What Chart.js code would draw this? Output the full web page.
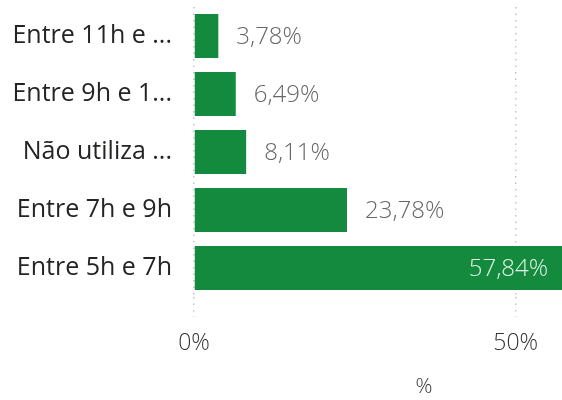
<!DOCTYPE html>
<html><head><meta charset="utf-8">
<script src="https://cdn.jsdelivr.net/npm/chart.js@4"></script>
<style>html,body{margin:0;padding:0;background:#fff;overflow:hidden}#wrap{width:562px;height:400px;overflow:hidden;position:relative}</style>
</head><body><div id="wrap"><canvas id="c" width="654" height="400" style="width:654px;height:400px;display:block"></canvas></div>
<script>
const categories = ["Entre 11h e ...", "Entre 9h e 1...", "Não utiliza ...", "Entre 7h e 9h", "Entre 5h e 7h"];
const values = [3.78, 6.49, 8.11, 23.78, 57.84];
const valueLabels = ["3,78%", "6,49%", "8,11%", "23,78%", "57,84%"];
const tickValues = [0, 50];
const tickLabels = ["0%", "50%"];
const axisTitle = "%";

const FONT = "'Open Sans', 'Liberation Sans', sans-serif";

const dataLabelPlugin = {
  id: 'dataLabels',
  afterDatasetsDraw(chart) {
    const ctx = chart.ctx;
    const meta = chart.getDatasetMeta(0);
    const visibleRight = 562;
    ctx.save();
    ctx.font = "300 24px " + FONT;
    ctx.textBaseline = 'middle';
    meta.data.forEach((el, i) => {
      const txt = valueLabels[i];
      const w = ctx.measureText(txt).width;
      if (el.x + 17 + w > visibleRight) {
        ctx.fillStyle = '#dff4e2';
        ctx.textAlign = 'right';
        ctx.fillText(txt, el.x - 18, el.y + 1);
      } else {
        ctx.fillStyle = '#666666';
        ctx.textAlign = 'left';
        ctx.fillText(txt, el.x + 18, el.y + 1);
      }
    });
    ctx.restore();
  }
};

new Chart(document.getElementById('c'), {
  type: 'bar',
  data: {
    labels: categories,
    datasets: [{
      data: values,
      backgroundColor: '#138a3e',
      barPercentage: 0.76,
      categoryPercentage: 1
    }]
  },
  options: {
    indexAxis: 'y',
    responsive: false,
    maintainAspectRatio: false,
    animation: false,
    devicePixelRatio: 1,
    layout: { padding: { top: 7, right: 0, bottom: 0, left: 0 } },
    plugins: { legend: { display: false }, tooltip: { enabled: false } },
    scales: {
      x: {
        min: 0,
        max: 71.5,
        afterBuildTicks(scale) { scale.ticks = tickValues.map(v => ({ value: v })); },
        afterFit(scale) { scale.height = 103; scale.paddingLeft = 0; scale.paddingRight = 0; },
        ticks: {
          callback: (v) => tickLabels[tickValues.indexOf(v)],
          font: { family: FONT, size: 23, weight: '300' },
          color: '#333',
          padding: 13,
          maxRotation: 0
        },
        grid: { color: '#c4c4c4', lineWidth: 1.5, tickLength: 20, drawTicks: true, tickBorderDash: [1.5, 5] },
        border: { display: false, dash: [1.5, 5] },
        title: { display: true, text: axisTitle, font: { family: FONT, size: 21, weight: '300' }, color: '#333', padding: { top: 4, bottom: 0 } }
      },
      y: {
        afterFit(scale) { scale.width = 194; scale.paddingTop = 0; scale.paddingBottom = 0; },
        ticks: { font: { family: FONT, size: 25 }, color: '#252423', padding: 22 },
        grid: { display: false, drawTicks: false },
        border: { display: false }
      }
    }
  },
  plugins: [dataLabelPlugin]
});
</script>
</body></html>
